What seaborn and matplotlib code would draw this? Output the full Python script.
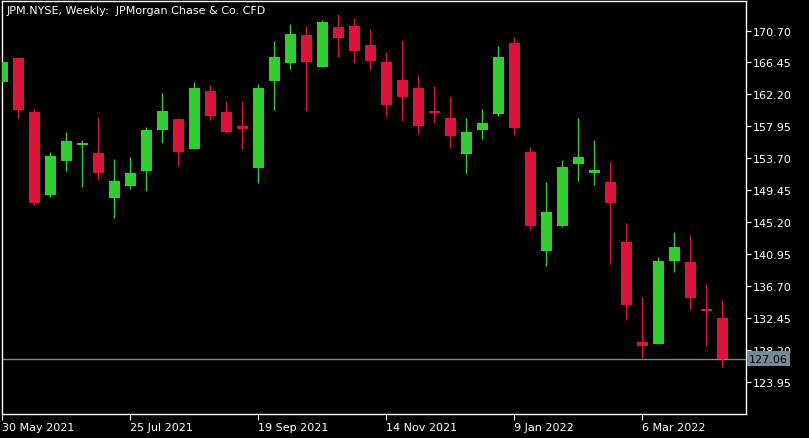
import matplotlib
matplotlib.use('Agg')
import matplotlib.pyplot as plt
import matplotlib.transforms as mtransforms
import numpy as np
import pandas as pd
import seaborn as sns

# JPM.NYSE weekly candles, first bar = week of 30 May 2021
opens = [163.90, 167.05, 159.88, 148.89, 153.41, 155.49, 154.43, 148.49, 150.09, 152.08,
         157.53, 158.95, 155.00, 162.67, 159.88, 158.02, 152.48, 164.03, 166.42, 170.10,
         165.89, 171.16, 171.30, 168.77, 166.52, 164.13, 163.06, 160.01, 159.08, 154.34,
         157.53, 159.65, 169.04, 154.56, 141.46, 144.78, 153.01, 151.81, 150.58, 142.61,
         129.33, 129.10, 140.13, 139.95, 133.71, 132.52]
highs = [166.60, 167.10, 160.27, 154.56, 157.22, 156.16, 159.21, 153.63, 153.90, 157.88,
         162.40, 159.08, 163.86, 163.46, 161.34, 161.34, 163.59, 169.31, 171.56, 171.30,
         172.09, 172.89, 172.36, 170.90, 167.84, 169.44, 164.79, 163.33, 161.87, 159.08,
         160.27, 168.64, 169.84, 155.23, 150.58, 153.50, 159.08, 156.16, 153.24, 145.13,
         135.31, 140.62, 143.94, 143.54, 137.03, 134.91]
lows = [163.80, 158.99, 147.57, 148.63, 152.08, 149.96, 150.89, 145.80, 149.69, 149.42,
        155.80, 152.88, 154.96, 158.85, 157.13, 155.00, 150.49, 160.18, 165.63, 160.05,
        165.89, 167.22, 166.42, 165.63, 159.38, 158.72, 157.13, 158.46, 155.13, 151.81,
        156.33, 159.38, 156.86, 144.24, 139.46, 144.64, 150.75, 150.22, 139.73, 132.29,
        127.24, 129.10, 138.67, 133.75, 128.71, 125.92]
closes = [166.52, 160.18, 147.83, 154.03, 156.02, 155.76, 151.81, 150.71, 151.77, 157.49,
          160.01, 154.60, 163.06, 159.38, 157.26, 157.66, 163.06, 167.18, 170.24, 166.56,
          171.83, 169.74, 168.02, 166.69, 160.85, 161.91, 158.06, 159.78, 156.73, 157.22,
          158.42, 167.18, 157.79, 144.78, 146.60, 152.57, 153.90, 152.17, 147.83, 134.28,
          128.84, 140.09, 141.95, 135.21, 133.49, 127.06]

price_ticks = [123.95, 128.20, 132.45, 136.70, 140.95, 145.20, 149.45, 153.70, 157.95,
               162.20, 166.45, 170.70]
last_price = 127.06
title = "JPM.NYSE, Weekly:  JPMorgan Chase & Co. CFD"

df = pd.DataFrame({'open': opens, 'high': highs, 'low': lows, 'close': closes})
df['date'] = pd.date_range('2021-05-30', periods=len(df), freq='W-SUN')
df['x'] = np.arange(len(df))
df['up'] = df['close'] >= df['open']

sns.set_theme(style='dark')
plt.rcParams['font.family'] = ['DejaVu Sans']

up_col = '#32CD32'
down_col = '#DC143C'
line_col = '#778899'

fig = plt.figure(figsize=(8.09, 4.39), dpi=100, facecolor='black')
ax = fig.add_axes([2 / 809, 1 - 415 / 439, 744 / 809, 413 / 439])
ax.set_facecolor('black')

colors = np.where(df['up'], up_col, down_col)
ax.vlines(df['x'], df['low'], df['high'], colors=colors, linewidth=1.0, zorder=2)
body_bottom = df[['open', 'close']].min(axis=1)
body_height = (df['open'] - df['close']).abs()
ax.bar(df['x'], body_height, bottom=body_bottom, width=0.69, color=colors,
       linewidth=0, zorder=3)

# current price line and label
ax.axhline(last_price, color=line_col, linewidth=1.0, zorder=1)
trans = mtransforms.blended_transform_factory(ax.transAxes, ax.transData)
ax.text(1.004, last_price, f"{last_price:.2f}", transform=trans, ha='left', va='center',
        fontsize=8, color='black', zorder=10, clip_on=False,
        bbox=dict(boxstyle='square,pad=0.22', facecolor=line_col, edgecolor='none'))

ax.set_xlim(-0.031, 46.47)
ax.set_ylim(119.74, 174.62)

ax.yaxis.tick_right()
ax.set_yticks(price_ticks)
ax.set_yticklabels([f"{v:.2f}" for v in price_ticks])
ax.tick_params(axis='y', colors='white', direction='out', length=3.5, width=0.8,
               pad=1.5, labelsize=8, labelcolor='white', right=True, left=False)

tick_idx = [0, 8, 16, 24, 32, 40]
ax.set_xticks(tick_idx)
ax.set_xticklabels([f"{d.day} {d.strftime('%b %Y')}" for d in df['date'].iloc[tick_idx]],
                   ha='left')
ax.tick_params(axis='x', colors='white', direction='out', length=4, width=0.8,
               pad=1.5, labelsize=8, labelcolor='white', bottom=True)

for s in ax.spines.values():
    s.set_color('white')
    s.set_linewidth(1.0)
    s.set_visible(True)
ax.grid(False)

fig.text(7 / 809, 1 - 11 / 439, title, ha='left', va='center', fontsize=8, color='white')

fig.savefig('out.png', dpi=100, facecolor='black')
